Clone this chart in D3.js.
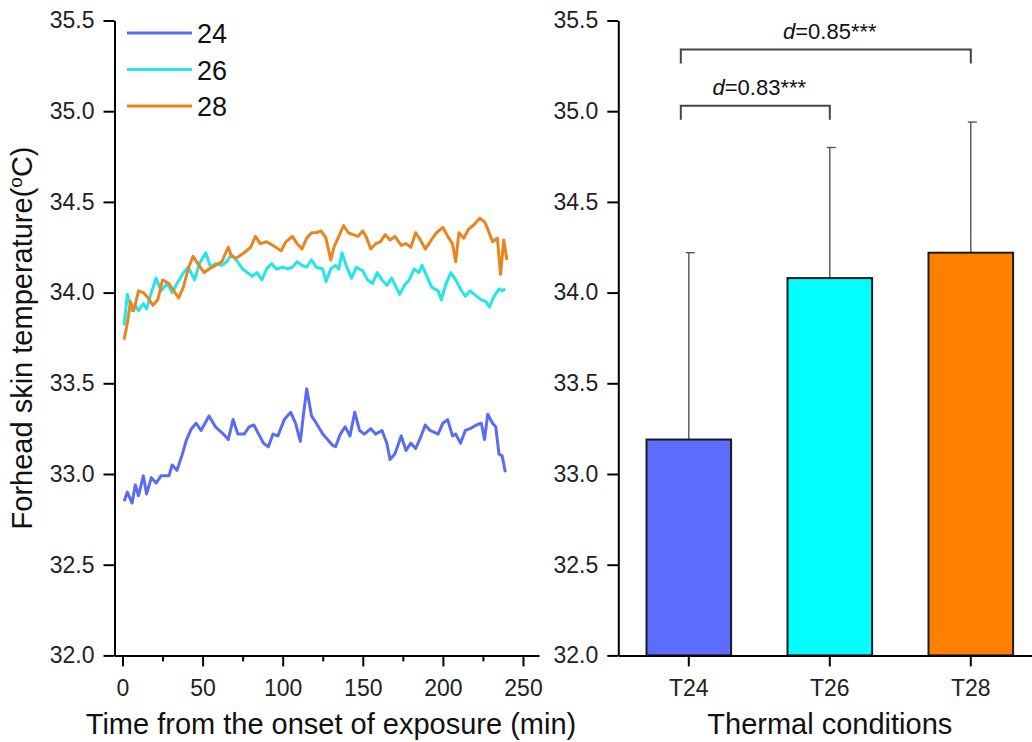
<!DOCTYPE html>
<html lang="en">
<head>
<meta charset="UTF-8">
<title>Forehead skin temperature</title>
<script src="https://d3js.org/d3.v7.min.js"></script>
<style>
    body { margin: 0; padding: 0; background: #fff; }
    svg { display: block; font-family: "Liberation Sans", Arial, sans-serif; }
    .axis .domain, .axis .tick line { stroke: #000; stroke-width: 2px; }
    .axis text { font-size: 23px; fill: #222; font-family: "Liberation Sans", Arial, sans-serif; }
    .title { font-size: 29px; fill: #111; }
</style>
</head>
<body>
<svg id="chart" width="1032" height="742"></svg>
<script>
    // time course, [minute, temperature]
    const series24 = [[1,32.85],[3,32.90],[6,32.84],[8,32.94],[10,32.88],[13,32.99],[15,32.89],[18,32.98],[21,32.95],[24,32.99],
        [29,32.99],[31,33.05],[34,33.02],[37,33.10],[40,33.19],[43,33.25],[46,33.28],[49,33.24],[54,33.32],[58,33.26],
        [63,33.22],[66,33.19],[69,33.30],[72,33.22],[76,33.22],[79,33.26],[82,33.27],[85,33.22],[88,33.17],[91,33.15],
        [94,33.22],[97,33.21],[101,33.30],[105,33.34],[108,33.28],[111,33.18],[113,33.33],[115,33.47],[118,33.32],[121,33.28],
        [125,33.22],[128,33.19],[131,33.16],[133,33.15],[136,33.22],[139,33.26],[142,33.21],[145,33.34],[148,33.24],[151,33.22],
        [155,33.25],[158,33.22],[162,33.24],[165,33.17],[167,33.08],[170,33.11],[174,33.21],[177,33.13],[180,33.17],[183,33.14],
        [186,33.20],[189,33.27],[192,33.24],[197,33.22],[200,33.28],[203,33.30],[206,33.21],[208,33.22],[211,33.17],[214,33.24],
        [217,33.25],[221,33.27],[224,33.28],[226,33.19],[228,33.33],[231,33.28],[233,33.26],[235,33.11],[237,33.10],[239,33.01]];

    const series26 = [[1,33.82],[3,33.99],[6,33.90],[8,33.93],[10,33.90],[13,33.94],[15,33.91],[18,34.00],[21,34.08],[24,34.01],
        [28,34.05],[31,34.00],[34,34.05],[38,34.11],[41,34.14],[45,34.07],[48,34.16],[52,34.22],[55,34.14],[58,34.16],
        [62,34.15],[65,34.17],[68,34.21],[71,34.18],[75,34.13],[78,34.11],[81,34.09],[84,34.11],[87,34.07],[90,34.13],
        [93,34.16],[96,34.13],[100,34.14],[103,34.13],[106,34.14],[109,34.17],[112,34.15],[115,34.14],[118,34.18],[121,34.14],
        [125,34.13],[127,34.06],[130,34.13],[133,34.15],[135,34.13],[137,34.22],[140,34.14],[143,34.08],[146,34.14],[150,34.12],
        [153,34.07],[156,34.05],[159,34.11],[162,34.07],[165,34.04],[168,34.08],[173,33.99],[176,34.04],[179,34.07],[182,34.13],
        [185,34.11],[187,34.15],[190,34.09],[193,34.03],[197,34.01],[199,33.96],[202,34.05],[205,34.11],[208,34.07],[211,34.02],
        [214,33.98],[217,34.01],[221,33.98],[224,33.96],[227,33.95],[229,33.92],[232,33.98],[235,34.02],[237,34.01],[239,34.02]];

    const series28 = [[1,33.74],[3,33.83],[5,33.95],[7,33.90],[10,34.01],[13,34.00],[16,33.97],[19,33.93],[22,33.96],[25,34.07],
        [29,34.05],[32,34.01],[35,33.97],[38,34.03],[41,34.13],[44,34.20],[47,34.16],[51,34.11],[54,34.13],[58,34.15],
        [62,34.17],[66,34.25],[68,34.20],[71,34.19],[76,34.22],[80,34.25],[83,34.31],[86,34.27],[90,34.28],[94,34.26],
        [99,34.23],[102,34.28],[106,34.31],[109,34.27],[112,34.24],[115,34.30],[118,34.33],[121,34.33],[124,34.34],[127,34.30],
        [130,34.18],[132,34.25],[135,34.31],[138,34.37],[141,34.33],[144,34.32],[147,34.31],[150,34.34],[152,34.31],[155,34.24],
        [158,34.27],[161,34.28],[164,34.32],[167,34.29],[170,34.31],[174,34.26],[177,34.27],[180,34.25],[183,34.33],[186,34.29],
        [189,34.24],[192,34.28],[196,34.33],[200,34.36],[203,34.31],[206,34.27],[208,34.17],[210,34.33],[213,34.30],[216,34.35],
        [219,34.37],[223,34.41],[226,34.39],[228,34.35],[231,34.28],[234,34.30],[236,34.10],[238,34.29],[240,34.18]];

    const seriesNames = ["24", "26", "28"];
    const lineColors = ["#5a6df0", "#24e6e6", "#e8851e"];

    // bar chart
    const conditions = ["T24", "T26", "T28"];
    const means = [33.19, 34.08, 34.22];
    const sds = [1.03, 0.72, 0.72];
    const barColors = ["#5b6cff", "#00ffff", "#ff8000"];

    const yTicks = [32.0, 32.5, 33.0, 33.5, 34.0, 34.5, 35.0, 35.5];
    const xTicks = [0, 50, 100, 150, 200, 250];
    const xMinorTicks = [25, 75, 125, 175, 225];

    // significance brackets
    const bracketFrom = ["T24", "T24"];
    const bracketTo = ["T28", "T26"];
    const bracketLevel = [35.34, 35.03];
    const bracketLabel = ["=0.85***", "=0.83***"];

    const svg = d3.select("#chart");
    svg.append("rect").attr("width", 1032).attr("height", 742).attr("fill", "#fff");

    // ---------- left panel: time course ----------
    const xL = d3.scaleLinear().domain([-5, 260]).range([114.5, 539]);
    const yL = d3.scaleLinear().domain([32, 35.5]).range([655.4, 20.5]);

    const line = d3.line().x(d => xL(d[0])).y(d => yL(d[1]));
    [series24, series26, series28].forEach((s, i) => {
        svg.append("path")
            .datum(s)
            .attr("fill", "none")
            .attr("stroke", lineColors[i])
            .attr("stroke-width", 3)
            .attr("stroke-linejoin", "round")
            .attr("d", line);
    });

    svg.append("g").attr("class", "axis")
        .attr("transform", `translate(0,${yL(32)})`)
        .call(d3.axisBottom(xL).tickValues(xMinorTicks).tickSize(6).tickSizeOuter(0).tickFormat(""))
        .call(g => g.select(".domain").remove());

    svg.append("g").attr("class", "axis")
        .attr("transform", `translate(0,${yL(32)})`)
        .call(d3.axisBottom(xL).tickValues(xTicks).tickSize(11).tickSizeOuter(0).tickPadding(13));

    svg.append("g").attr("class", "axis")
        .attr("transform", `translate(${xL(-5)},0)`)
        .call(d3.axisLeft(yL).tickValues(yTicks).tickFormat(d3.format(".1f")).tickSize(11).tickSizeOuter(0).tickPadding(9));

    // legend
    const legend = svg.append("g");
    seriesNames.forEach((n, i) => {
        const ly = 33 + i * 36.5;
        legend.append("line")
            .attr("x1", 127).attr("x2", 192).attr("y1", ly).attr("y2", ly)
            .attr("stroke", lineColors[i]).attr("stroke-width", 3);
        legend.append("text")
            .attr("x", 197).attr("y", ly + 10)
            .attr("font-size", 27).attr("fill", "#111")
            .text(n);
    });

    svg.append("text").attr("class", "title")
        .attr("x", 331).attr("y", 734)
        .attr("text-anchor", "middle")
        .text("Time from the onset of exposure (min)");

    const yTitle = svg.append("text").attr("class", "title")
        .attr("transform", `translate(32,${yL(33.75)}) rotate(-90)`)
        .attr("text-anchor", "middle");
    yTitle.append("tspan").text("Forhead skin temperature(");
    yTitle.append("tspan").attr("font-size", 19).attr("dy", -10).text("o");
    yTitle.append("tspan").attr("dy", 10).text("C)");

    // ---------- right panel: bars ----------
    const xR = d3.scaleBand().domain(conditions).range([618.3, 1041.3]).paddingInner(0.4).paddingOuter(0.2);
    const yR = d3.scaleLinear().domain([32, 35.5]).range([655.4, 20.5]);
    const bw = xR.bandwidth();

    // error bars (upper only)
    conditions.forEach((c, i) => {
        const cx = xR(c) + bw / 2;
        svg.append("line")
            .attr("x1", cx).attr("x2", cx)
            .attr("y1", yR(means[i])).attr("y2", yR(means[i] + sds[i]))
            .attr("stroke", "#555").attr("stroke-width", 1.4);
        svg.append("line")
            .attr("x1", cx - 3).attr("x2", cx + 6)
            .attr("y1", yR(means[i] + sds[i])).attr("y2", yR(means[i] + sds[i]))
            .attr("stroke", "#555").attr("stroke-width", 1.4);
    });

    svg.selectAll("rect.bar")
        .data(conditions)
        .join("rect")
        .attr("class", "bar")
        .attr("x", d => xR(d))
        .attr("width", bw)
        .attr("y", (d, i) => yR(means[i]))
        .attr("height", (d, i) => yR(32) - yR(means[i]))
        .attr("fill", (d, i) => barColors[i])
        .attr("stroke", "#1c1c1c")
        .attr("stroke-width", 2);

    svg.append("g").attr("class", "axis")
        .attr("transform", `translate(0,${yR(32)})`)
        .call(d3.axisBottom(xR).tickSize(11).tickSizeOuter(0).tickPadding(13));

    svg.append("g").attr("class", "axis")
        .attr("transform", `translate(618.3,0)`)
        .call(d3.axisLeft(yR).tickValues(yTicks).tickFormat(d3.format(".1f")).tickSize(11).tickSizeOuter(0).tickPadding(9));

    svg.append("text").attr("class", "title")
        .attr("x", xR("T26") + bw / 2).attr("y", 734)
        .attr("text-anchor", "middle")
        .text("Thermal conditions");

    // brackets
    bracketLevel.forEach((lv, i) => {
        const x1 = xR(bracketFrom[i]) + bw / 2 - 8;
        const x2 = xR(bracketTo[i]) + bw / 2;
        const y = yR(lv);
        svg.append("path")
            .attr("d", `M${x1},${y + 14}V${y}H${x2}V${y + 14}`)
            .attr("fill", "none").attr("stroke", "#444").attr("stroke-width", 2);
        const t = svg.append("text")
            .attr("x", (x1 + x2) / 2 + 4).attr("y", y - 11)
            .attr("text-anchor", "middle")
            .attr("font-size", 22).attr("fill", "#111");
        t.append("tspan").attr("font-style", "italic").text("d");
        t.append("tspan").text(bracketLabel[i]);
    });
</script>
</body>
</html>
